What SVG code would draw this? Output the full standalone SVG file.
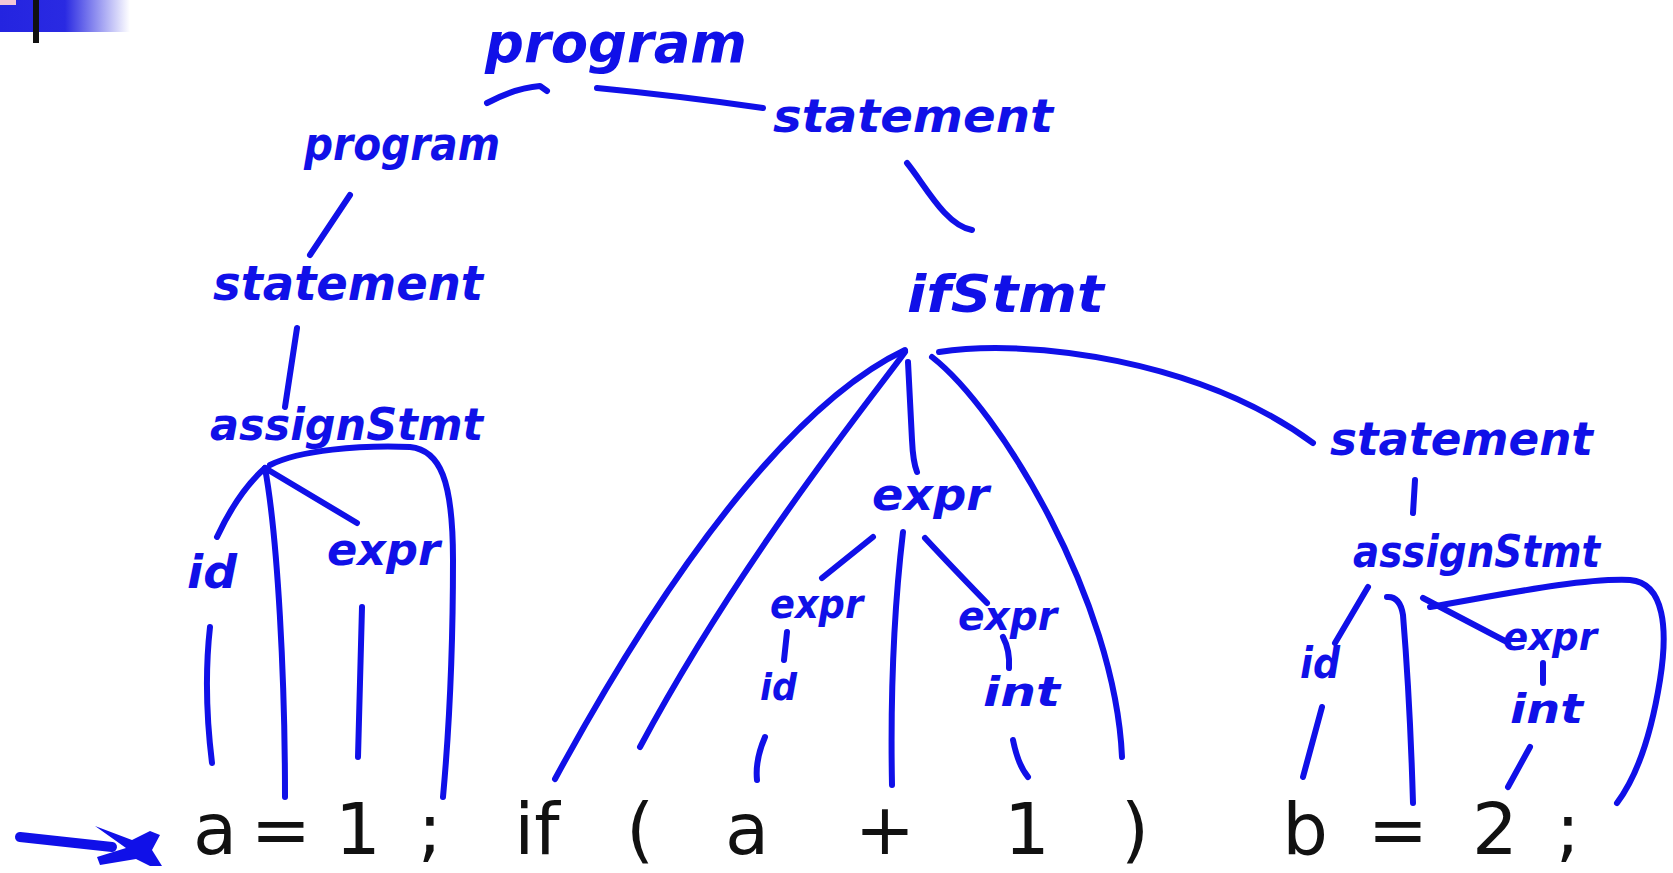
<svg xmlns="http://www.w3.org/2000/svg" width="1673" height="873" viewBox="0 0 1673 873">
<style>
.h{font-family:"DejaVu Sans","Liberation Sans",sans-serif;font-style:oblique;font-weight:bold;fill:#1010e8}
.c{fill:none;stroke:#1010e8;stroke-width:6;stroke-linecap:round;stroke-linejoin:round}
.t{font-family:"DejaVu Sans","Liberation Sans",sans-serif;font-size:72px;fill:#111;text-anchor:middle}
</style>
<defs>
<linearGradient id="bar" x1="0" y1="0" x2="1" y2="0">
<stop offset="0" stop-color="#2424e0"/>
<stop offset="0.5" stop-color="#2a2ae2"/>
<stop offset="1" stop-color="#2a2ae2" stop-opacity="0"/>
</linearGradient>
</defs>
<rect width="1673" height="873" fill="#fff"/>
<g id="corner">
<rect x="0" y="0" width="130" height="32" fill="url(#bar)"/>
<rect x="0" y="0" width="16" height="5" fill="#f2c6d6"/>
<rect x="33" y="0" width="6" height="43" fill="#111"/>
</g>
<g id="connectors">
<path class="c" d="M487,103 Q515,88 540,86 L547,91"/>
<path class="c" d="M597,88 Q680,96 763,108"/>
<path class="c" d="M907,163 C925,185 945,225 972,230"/>
<path class="c" d="M350,195 L310,255"/>
<path class="c" d="M297,328 L285,407"/>
<path class="c" d="M265,468 Q238,492 217,537"/>
<path class="c" d="M210,627 Q203,690 212,763"/>
<path class="c" d="M265,468 C278,540 285,680 285,797"/>
<path class="c" d="M265,468 L357,523"/>
<path class="c" d="M362,607 L358,757"/>
<path class="c" d="M270,465 C300,450 360,445 410,447 C440,450 453,480 453,560 C453,650 450,720 443,797"/>
<path class="c" d="M905,350 C810,395 690,530 555,779"/>
<path class="c" d="M905,352 C870,400 740,560 640,747"/>
<path class="c" d="M908,362 L912,440 Q913,462 917,472"/>
<path class="c" d="M932,357 C1000,410 1115,600 1122,757"/>
<path class="c" d="M939,352 C1030,338 1200,360 1313,443"/>
<path class="c" d="M873,537 L822,578"/>
<path class="c" d="M787,632 L784,660"/>
<path class="c" d="M765,737 Q755,760 757,780"/>
<path class="c" d="M903,532 C895,600 890,680 892,785"/>
<path class="c" d="M925,538 Q950,565 987,603"/>
<path class="c" d="M1003,637 Q1010,650 1009,668"/>
<path class="c" d="M1013,740 Q1018,765 1028,777"/>
<path class="c" d="M1415,480 L1413,513"/>
<path class="c" d="M1368,587 L1335,643"/>
<path class="c" d="M1322,707 L1303,777"/>
<path class="c" d="M1387,597 Q1400,596 1403,615 Q1410,700 1413,803"/>
<path class="c" d="M1423,598 L1507,642"/>
<path class="c" d="M1430,607 C1500,595 1580,578 1630,580 C1665,583 1668,630 1660,680 C1652,730 1638,775 1617,803"/>
<path class="c" d="M1543,663 L1543,683"/>
<path class="c" d="M1530,747 L1508,787"/>
</g>
<g id="n-program-root"><text class="h" x="485" y="62" font-size="56" textLength="262" lengthAdjust="spacingAndGlyphs">program</text></g>
<g id="n-statement-top"><text class="h" x="773" y="132" font-size="46" textLength="280" lengthAdjust="spacingAndGlyphs">statement</text></g>
<g id="n-ifStmt"><text class="h" x="907" y="312" font-size="52" textLength="197" lengthAdjust="spacingAndGlyphs">ifStmt</text></g>
<g id="n-program-left"><text class="h" x="304" y="160" font-size="46" textLength="196" lengthAdjust="spacingAndGlyphs">program</text></g>
<g id="n-statement-left"><text class="h" x="213" y="300" font-size="48" textLength="270" lengthAdjust="spacingAndGlyphs">statement</text></g>
<g id="n-assignStmt-left"><text class="h" x="210" y="440" font-size="44" textLength="273" lengthAdjust="spacingAndGlyphs">assignStmt</text></g>
<g id="n-id-left"><text class="h" x="187" y="588" font-size="46" textLength="50" lengthAdjust="spacingAndGlyphs">id</text></g>
<g id="n-expr-left"><text class="h" x="327" y="565" font-size="44" textLength="113" lengthAdjust="spacingAndGlyphs">expr</text></g>
<g id="n-expr-mid"><text class="h" x="872" y="510" font-size="44" textLength="117" lengthAdjust="spacingAndGlyphs">expr</text></g>
<g id="n-expr-midleft"><text class="h" x="770" y="618" font-size="40" textLength="93" lengthAdjust="spacingAndGlyphs">expr</text></g>
<g id="n-id-mid"><text class="h" x="760" y="700" font-size="38" textLength="37" lengthAdjust="spacingAndGlyphs">id</text></g>
<g id="n-expr-midright"><text class="h" x="958" y="630" font-size="40" textLength="99" lengthAdjust="spacingAndGlyphs">expr</text></g>
<g id="n-int-mid"><text class="h" x="983" y="706" font-size="40" textLength="77" lengthAdjust="spacingAndGlyphs">int</text></g>
<g id="n-statement-right"><text class="h" x="1330" y="455" font-size="46" textLength="263" lengthAdjust="spacingAndGlyphs">statement</text></g>
<g id="n-assignStmt-right"><text class="h" x="1353" y="567" font-size="44" textLength="247" lengthAdjust="spacingAndGlyphs">assignStmt</text></g>
<g id="n-id-right"><text class="h" x="1300" y="678" font-size="42" textLength="40" lengthAdjust="spacingAndGlyphs">id</text></g>
<g id="n-expr-right"><text class="h" x="1503" y="650" font-size="38" textLength="94" lengthAdjust="spacingAndGlyphs">expr</text></g>
<g id="n-int-right"><text class="h" x="1510" y="723" font-size="40" textLength="73" lengthAdjust="spacingAndGlyphs">int</text></g>
<g id="pointer">
<path d="M20,837 L112,847" fill="none" stroke="#1010e8" stroke-width="10" stroke-linecap="round"/>
<path d="M95,826 L132,840 L150,831 L160,835 L152,850 L162,866 L150,866 L136,859 L100,865 L97,857 L126,848 Z" fill="#1010e8"/>
</g>
<g id="tokens">
<g id="tok-a1"><text class="t" x="215" y="854">a</text></g>
<g id="tok-eq1"><text class="t" x="281" y="854">=</text></g>
<g id="tok-1a"><text class="t" x="358" y="854">1</text></g>
<g id="tok-semi1"><text class="t" x="430" y="854">;</text></g>
<g id="tok-if"><text class="t" x="537" y="854">if</text></g>
<g id="tok-lp"><text class="t" x="640" y="854">(</text></g>
<g id="tok-a2"><text class="t" x="747" y="854">a</text></g>
<g id="tok-plus"><text class="t" x="885" y="854">+</text></g>
<g id="tok-1b"><text class="t" x="1027" y="854">1</text></g>
<g id="tok-rp"><text class="t" x="1135" y="854">)</text></g>
<g id="tok-b"><text class="t" x="1305" y="854">b</text></g>
<g id="tok-eq2"><text class="t" x="1398" y="854">=</text></g>
<g id="tok-2"><text class="t" x="1495" y="854">2</text></g>
<g id="tok-semi2"><text class="t" x="1568" y="854">;</text></g>
</g>
</svg>
